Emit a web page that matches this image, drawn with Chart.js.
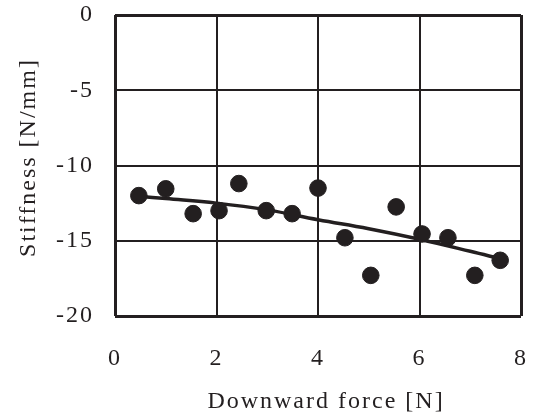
<!DOCTYPE html>
<html>
<head>
<meta charset="utf-8">
<script src="https://cdn.jsdelivr.net/npm/chart.js@4"></script>
<style>
  html, body { margin: 0; padding: 0; background: #fff; }
  #wrap { width: 540px; height: 418px; }
</style>
</head>
<body>
<div id="wrap"><canvas id="chart"></canvas></div>
<script>
const forceX = [0.47, 1.0, 1.54, 2.05, 2.44, 2.98, 3.49, 4.0, 4.53, 5.04, 5.54, 6.05, 6.56, 7.09, 7.59];
const stiffness = [-12.0, -11.55, -13.2, -13.0, -11.2, -13.0, -13.2, -11.5, -14.8, -17.3, -12.75, -14.55, -14.8, -17.3, -16.3];

const fitX = [0.47, 1, 2, 3, 4, 5, 6, 7, 7.59];
const fitY = [-12.05, -12.2, -12.5, -12.95, -13.6, -14.2, -14.9, -15.7, -16.2];

const xTicks = [0, 2, 4, 6, 8];
const yTicks = [0, -5, -10, -15, -20];

const ink = '#231f20';
const font = { family: "'Liberation Serif', 'Times New Roman', serif", size: 24 };

const spacing = {
    id: 'spacing',
    beforeInit(chart) { chart.ctx.letterSpacing = '2px'; },
    beforeDraw(chart) { chart.ctx.letterSpacing = '2px'; }
};

// keep the plot box where the layout padding puts it
function noOverflow(s) {
    s.paddingTop = 0;
    s.paddingBottom = 0;
    s.paddingLeft = 0;
    s.paddingRight = 0;
}

new Chart(document.getElementById('chart'), {
    type: 'scatter',
    data: {
        datasets: [{
            label: 'Data',
            data: forceX.map((x, i) => ({ x, y: stiffness[i] })),
            backgroundColor: ink,
            borderColor: ink,
            pointRadius: 8.3,
            pointHoverRadius: 8.3
        }, {
            type: 'line',
            label: 'Fit',
            data: fitX.map((x, i) => ({ x, y: fitY[i] })),
            borderColor: ink,
            borderWidth: 3.5,
            pointRadius: 0,
            fill: false,
            tension: 0.4
        }]
    },
    options: {
        responsive: true,
        maintainAspectRatio: false,
        animation: false,
        events: [],
        layout: { padding: { top: 15, right: 19, left: 0, bottom: 0 } },
        plugins: { legend: { display: false }, tooltip: { enabled: false } },
        scales: {
            x: {
                type: 'linear',
                min: 0,
                max: 8,
                afterFit: s => { s.height = 102; noOverflow(s); },
                afterBuildTicks: s => { s.ticks = xTicks.map(v => ({ value: v })); },
                ticks: { color: ink, font, padding: 28 },
                grid: {
                    color: ink,
                    drawTicks: false,
                    lineWidth: c => (c.tick.value === 0 || c.tick.value === 8) ? 3 : 2
                },
                border: { display: false },
                title: { display: true, text: '  Downward force [N]', color: ink, font, padding: { top: 2, bottom: 2 } }
            },
            y: {
                type: 'linear',
                min: -20,
                max: 0,
                afterFit: s => { s.width = 115; noOverflow(s); },
                afterBuildTicks: s => { s.ticks = yTicks.map(v => ({ value: v })); },
                ticks: { color: ink, font, padding: 21 },
                grid: {
                    color: ink,
                    drawTicks: false,
                    lineWidth: c => (c.tick.value === 0 || c.tick.value === -20) ? 3 : 2
                },
                border: { display: false },
                title: { display: true, text: '  Stiffness [N/mm]', color: ink, font, padding: { top: 14, bottom: 14 } }
            }
        }
    },
    plugins: [spacing]
});
</script>
</body>
</html>
